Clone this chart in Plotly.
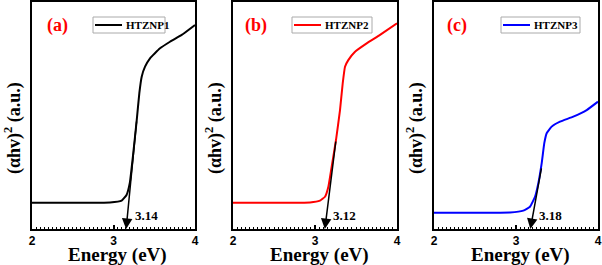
import plotly.graph_objects as go

# ---- data ----
energy_a = [2.0, 2.5, 2.957, 3.10, 3.16, 3.20, 3.243, 3.285, 3.317, 3.346, 3.387, 3.448, 3.571, 3.693, 3.837, 4.0]
absorb_a = [0.116, 0.116, 0.117, 0.125, 0.150, 0.203, 0.335, 0.480, 0.599, 0.671, 0.715, 0.752, 0.796, 0.825, 0.855, 0.899]

energy_b = [2.0, 2.5, 2.939, 3.061, 3.122, 3.163, 3.203, 3.256, 3.305, 3.338, 3.366, 3.406, 3.488, 3.630, 3.793, 4.0]
absorb_b = [0.116, 0.116, 0.117, 0.125, 0.142, 0.186, 0.274, 0.392, 0.524, 0.642, 0.715, 0.744, 0.781, 0.818, 0.855, 0.906]

energy_c = [2.0, 2.5, 2.927, 3.089, 3.171, 3.232, 3.272, 3.313, 3.345, 3.374, 3.435, 3.537, 3.699, 3.862, 4.0]
absorb_c = [0.072, 0.072, 0.073, 0.081, 0.098, 0.142, 0.201, 0.289, 0.378, 0.422, 0.451, 0.473, 0.495, 0.524, 0.561]

series_names = ["HTZNP1", "HTZNP2", "HTZNP3"]
panel_labels = ["(a)", "(b)", "(c)"]
colors = ["#000000", "#ff0000", "#0000ff"]
bandgap_labels = ["3.14", "3.12", "3.18"]
tangent_tip_E = [3.155, 3.12, 3.175]
tangent_top_E = [3.285, 3.256, 3.313]
tangent_top_v = [0.480, 0.392, 0.274]
x_ticks = [2, 3, 4]

energies = [energy_a, energy_b, energy_c]
absorbs = [absorb_a, absorb_b, absorb_c]

W, H = 602, 265
x_dom_px = [(32, 195), (233, 397), (434, 598)]
y_top_px, y_bot_px = 2, 229

def px_x(p):
    return p / W

def px_y(p):
    return 1 - p / H

SERIF = "Liberation Serif, Times New Roman, serif"
SANS = "Liberation Sans, Arial, sans-serif"

fig = go.Figure()
annotations = []
shapes = []
layout_axes = {}
legend_box_px = [(93, 165), (292, 372), (501, 580)]
label_left_px = [45, 243, 445]
ytitle_x_px = [13, 214, 415]

for i in range(3):
    n = "" if i == 0 else str(i + 1)
    xa = "x" + n
    ya = "y" + n
    fig.add_trace(go.Scatter(
        x=energies[i], y=absorbs[i], mode="lines", name=series_names[i],
        line=dict(color=colors[i], width=2, shape="spline", smoothing=0.35),
        xaxis=xa, yaxis=ya, showlegend=False, hoverinfo="skip",
    ))
    d0, d1 = x_dom_px[i]
    layout_axes["xaxis" + n] = dict(
        domain=[px_x(d0), px_x(d1)], range=[2, 4], anchor=ya, automargin=False,
        tickvals=x_ticks, ticktext=[str(t) for t in x_ticks],
        ticks="inside", ticklen=4, tickwidth=1.5, tickcolor="black",
        minor=dict(ticks="inside", ticklen=2, tickwidth=1, dtick=0.05, tickcolor="black", tick0=2),
        showline=True, linecolor="black", linewidth=2, mirror=True,
        showgrid=False, zeroline=False,
        tickfont=dict(family=SANS, size=12, color="black", weight="bold"),
    )
    layout_axes["yaxis" + n] = dict(
        domain=[px_y(y_bot_px), px_y(y_top_px)], range=[0, 1], anchor=xa, automargin=False,
        showticklabels=False, ticks="",
        showline=True, linecolor="black", linewidth=2, mirror=True,
        showgrid=False, zeroline=False,
    )
    # legend box (drawn manually to match the reference size)
    lb0, lb1 = legend_box_px[i]
    shapes.append(dict(type="rect", xref="paper", yref="paper",
                       x0=px_x(lb0), x1=px_x(lb1), y0=px_y(33), y1=px_y(17),
                       line=dict(color="#aaaaaa", width=1), fillcolor="white", layer="above"))
    shapes.append(dict(type="line", xref="paper", yref="paper",
                       x0=px_x(lb0 + 2), x1=px_x(lb0 + 29), y0=px_y(25), y1=px_y(25),
                       line=dict(color=colors[i], width=2), layer="above"))
    annotations.append(dict(
        x=px_x(lb0 + 31), y=px_y(25), xref="paper", yref="paper",
        xanchor="left", yanchor="middle", showarrow=False, text=series_names[i],
        font=dict(family=SERIF, size=11, color="black", weight="bold"),
    ))
    # panel label
    annotations.append(dict(
        x=px_x(label_left_px[i]), y=px_y(26), xref="paper", yref="paper",
        xanchor="left", yanchor="middle", showarrow=False, text=panel_labels[i],
        font=dict(family=SERIF, size=18, color="#ff0000", weight="bold"),
    ))
    # y title
    annotations.append(dict(
        x=px_x(ytitle_x_px[i]), y=px_y(128), xref="paper", yref="paper",
        xanchor="center", yanchor="middle", showarrow=False, textangle=-90,
        text="(αhv)<sup>2</sup> (a.u.)",
        font=dict(family=SERIF, size=18, color="black", weight="bold"),
    ))
    # x title
    annotations.append(dict(
        x=px_x((d0 + d1) / 2 + 4), y=px_y(255), xref="paper", yref="paper",
        xanchor="center", yanchor="middle", showarrow=False,
        text="Energy (eV)",
        font=dict(family=SERIF, size=19, color="black", weight="bold"),
    ))
    # tangent arrow
    annotations.append(dict(
        x=tangent_tip_E[i], y=0, xref=xa, yref=ya,
        ax=tangent_top_E[i], ay=tangent_top_v[i], axref=xa, ayref=ya,
        text="", showarrow=True, arrowhead=2, arrowsize=1.4, arrowwidth=1.5, arrowcolor="black",
        standoff=0,
    ))
    # band gap value
    annotations.append(dict(
        x=tangent_tip_E[i] + 0.08, y=0.06, xref=xa, yref=ya,
        xanchor="left", yanchor="middle", showarrow=False, text=bandgap_labels[i],
        font=dict(family=SERIF, size=13, color="black", weight="bold"),
    ))

fig.update_layout(
    width=W, height=H, margin=dict(l=0, r=0, t=0, b=0),
    paper_bgcolor="white", plot_bgcolor="white", hovermode=False,
    annotations=annotations, shapes=shapes, **layout_axes,
)

fig.write_html("out.html", config={"displayModeBar": False},
               post_script="document.body.style.margin='0';document.body.style.padding='0';")
